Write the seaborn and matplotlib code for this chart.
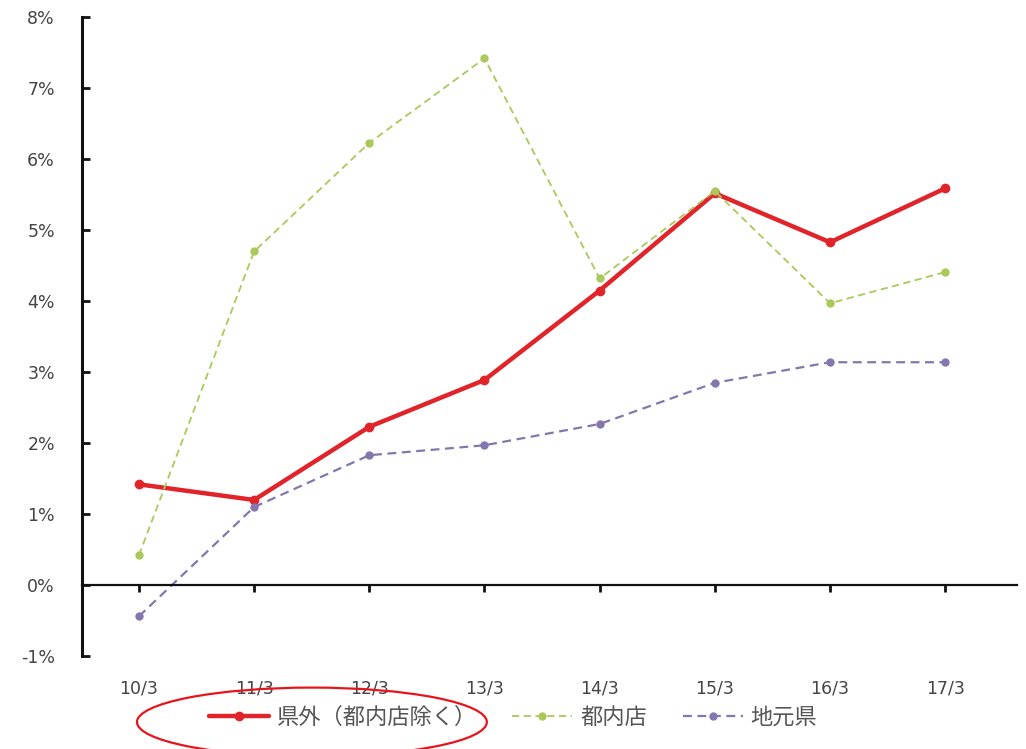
import matplotlib
matplotlib.use("Agg")
import matplotlib.pyplot as plt
from matplotlib.patches import Ellipse
from matplotlib.ticker import FuncFormatter
import seaborn as sns
import pandas as pd

periods = ["10/3", "11/3", "12/3", "13/3", "14/3", "15/3", "16/3", "17/3"]
outside_pref = [1.42, 1.20, 2.23, 2.89, 4.15, 5.52, 4.83, 5.59]   # 県外（都内店除く）
tokyo_stores = [0.42, 4.70, 6.23, 7.42, 4.32, 5.55, 3.97, 4.41]   # 都内店
home_pref = [-0.44, 1.10, 1.83, 1.97, 2.27, 2.85, 3.14, 3.14]     # 地元県
series_names = ["県外（都内店除く）", "都内店", "地元県"]

sns.set_theme(style="white")
plt.rcParams["font.family"] = ["Noto Sans CJK JP", "DejaVu Sans"]

df = pd.DataFrame({
    "idx": list(range(len(periods))) * 3,
    "value": outside_pref + tokyo_stores + home_pref,
    "series": sum([[n] * len(periods) for n in series_names], []),
})

fig = plt.figure(figsize=(10.26, 7.49), dpi=100)
ax = fig.add_axes([0.0799, 0.124, 0.911, 0.853])

styles = {
    "県外（都内店除く）": dict(color="#e0242a", lw=3.2, ls="-", ms=7),
    "都内店": dict(color="#a9c95a", lw=1.3, ls=(0, (4, 2.5)), ms=6),
    "地元県": dict(color="#8377ad", lw=1.6, ls=(0, (4, 2.5)), ms=6),
}
for name in series_names:
    st = styles[name]
    sub = df[df["series"] == name]
    sns.lineplot(data=sub, x="idx", y="value", ax=ax, color=st["color"],
                 linewidth=st["lw"], linestyle=st["ls"], marker="o",
                 markersize=st["ms"], markeredgewidth=0, label=name,
                 legend=False)

ax.set_xlim(-0.494, 7.62)
ax.set_ylim(-1, 8)
ax.set_yticks(range(-1, 9))
ax.yaxis.set_major_formatter(FuncFormatter(lambda v, p: f"{v:.0f}%"))
ax.set_xticks(range(len(periods)))
ax.set_xticklabels(periods)
ax.set_xlabel("")
ax.set_ylabel("")

for s in ["top", "right"]:
    ax.spines[s].set_visible(False)
ax.spines["left"].set_color("#111111")
ax.spines["left"].set_linewidth(2.2)
ax.spines["bottom"].set_position(("data", 0))
ax.spines["bottom"].set_color("#111111")
ax.spines["bottom"].set_linewidth(1.6)

ax.tick_params(axis="y", left=True, direction="in", length=6, width=2,
               color="#111111", labelsize=12.5, labelcolor="#444444", pad=19.5)
ax.tick_params(axis="x", bottom=True, direction="out", length=5, width=2,
               color="#111111", labelsize=12.5, labelcolor="#444444", pad=63)
for lbl in ax.get_xticklabels() + ax.get_yticklabels():
    lbl.set_fontfamily("DejaVu Sans")

handles, labels = ax.get_legend_handles_labels()
fig.legend(handles, labels, loc="center", bbox_to_anchor=(0.5, 0.042), ncol=3,
           frameon=False, fontsize=16, handlelength=2.7, columnspacing=1.6,
           handletextpad=0.35, labelcolor="#555555")

fig.add_artist(Ellipse((0.304, 0.036), 0.341, 0.092, transform=fig.transFigure,
                       fill=False, edgecolor="#e8141c", linewidth=1.6))

fig.savefig("out.png", dpi=100)
